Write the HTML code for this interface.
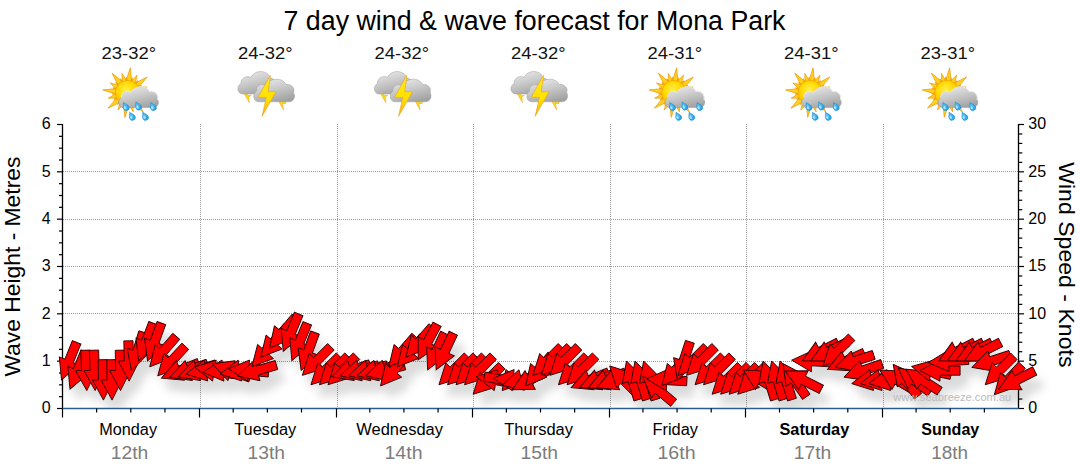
<!DOCTYPE html><html><head><meta charset="utf-8"><title>7 day wind &amp; wave forecast</title>
<style>html,body{margin:0;padding:0;background:#fff;}svg{display:block;}text{font-family:"Liberation Sans",sans-serif;}</style></head><body>
<svg width="1080" height="475" viewBox="0 0 1080 475">
<defs>
<filter id="sh" x="-5%" y="-30%" width="110%" height="180%"><feDropShadow dx="7" dy="12" stdDeviation="4.5" flood-color="#000" flood-opacity="0.14"/></filter>
<clipPath id="pc"><rect x="0" y="100" width="1080" height="308"/></clipPath>
<linearGradient id="cg" x1="0.25" y1="0" x2="0.7" y2="1"><stop offset="0" stop-color="#e9e9e9"/><stop offset="0.5" stop-color="#c6c6c6"/><stop offset="1" stop-color="#a0a0a0"/></linearGradient>
<linearGradient id="bg" x1="0" y1="0" x2="0" y2="1"><stop offset="0" stop-color="#ffe81a"/><stop offset="0.6" stop-color="#ffe000"/><stop offset="1" stop-color="#f5a623"/></linearGradient>
<radialGradient id="sg" cx="0.45" cy="0.4" r="0.65"><stop offset="0" stop-color="#fff04a"/><stop offset="0.55" stop-color="#ffd800"/><stop offset="1" stop-color="#f8b000"/></radialGradient>
<radialGradient id="dg" cx="0.4" cy="0.45" r="0.7"><stop offset="0" stop-color="#6ccbfa"/><stop offset="1" stop-color="#1295e0"/></radialGradient>
</defs>
<rect width="1080" height="475" fill="#fff"/>
<text x="283.5" y="29.5" font-size="27" textLength="502" lengthAdjust="spacingAndGlyphs" fill="#000">7 day wind &amp; wave forecast for Mona Park</text>
<text x="101.6" y="59.3" font-size="16.4" textLength="54.4" lengthAdjust="spacingAndGlyphs" fill="#111">23-32°</text>
<text x="238.1" y="59.3" font-size="16.4" textLength="54.4" lengthAdjust="spacingAndGlyphs" fill="#111">24-32°</text>
<text x="374.6" y="59.3" font-size="16.4" textLength="54.4" lengthAdjust="spacingAndGlyphs" fill="#111">24-32°</text>
<text x="511.1" y="59.3" font-size="16.4" textLength="54.4" lengthAdjust="spacingAndGlyphs" fill="#111">24-32°</text>
<text x="647.6" y="59.3" font-size="16.4" textLength="54.4" lengthAdjust="spacingAndGlyphs" fill="#111">24-31°</text>
<text x="784.1" y="59.3" font-size="16.4" textLength="54.4" lengthAdjust="spacingAndGlyphs" fill="#111">24-31°</text>
<text x="920.6" y="59.3" font-size="16.4" textLength="54.4" lengthAdjust="spacingAndGlyphs" fill="#111">23-31°</text>
<line x1="63" x2="1018.5" y1="361.5" y2="361.5" stroke="#9c9c9c" stroke-width="1" stroke-dasharray="1,1" shape-rendering="crispEdges"/>
<line x1="63" x2="1018.5" y1="313.5" y2="313.5" stroke="#9c9c9c" stroke-width="1" stroke-dasharray="1,1" shape-rendering="crispEdges"/>
<line x1="63" x2="1018.5" y1="266.5" y2="266.5" stroke="#9c9c9c" stroke-width="1" stroke-dasharray="1,1" shape-rendering="crispEdges"/>
<line x1="63" x2="1018.5" y1="219.5" y2="219.5" stroke="#9c9c9c" stroke-width="1" stroke-dasharray="1,1" shape-rendering="crispEdges"/>
<line x1="63" x2="1018.5" y1="171.5" y2="171.5" stroke="#9c9c9c" stroke-width="1" stroke-dasharray="1,1" shape-rendering="crispEdges"/>
<line x1="200.5" x2="200.5" y1="124" y2="408.5" stroke="#9c9c9c" stroke-width="1" stroke-dasharray="1,1" shape-rendering="crispEdges"/>
<line x1="337.5" x2="337.5" y1="124" y2="408.5" stroke="#9c9c9c" stroke-width="1" stroke-dasharray="1,1" shape-rendering="crispEdges"/>
<line x1="473.5" x2="473.5" y1="124" y2="408.5" stroke="#9c9c9c" stroke-width="1" stroke-dasharray="1,1" shape-rendering="crispEdges"/>
<line x1="610.5" x2="610.5" y1="124" y2="408.5" stroke="#9c9c9c" stroke-width="1" stroke-dasharray="1,1" shape-rendering="crispEdges"/>
<line x1="746.5" x2="746.5" y1="124" y2="408.5" stroke="#9c9c9c" stroke-width="1" stroke-dasharray="1,1" shape-rendering="crispEdges"/>
<line x1="883.5" x2="883.5" y1="124" y2="408.5" stroke="#9c9c9c" stroke-width="1" stroke-dasharray="1,1" shape-rendering="crispEdges"/>
<g transform="translate(-0.0,0)"><g><path d="M125.6,82.3 L130.3,67.8 L131.8,83.0 Z M130.2,82.4 L137.2,75.1 L134.8,84.9 Z M133.5,83.9 L147.1,77.0 L137.4,88.8 Z M136.6,87.3 L146.8,87.0 L138.1,92.3 Z M137.9,90.6 L152.4,95.3 L137.2,96.8 Z M137.8,95.2 L145.1,102.2 L135.3,99.8 Z M136.3,98.5 L143.2,112.1 L131.4,102.4 Z M132.9,101.6 L133.2,111.8 L127.9,103.1 Z M129.6,102.9 L124.9,117.4 L123.4,102.2 Z M125.0,102.8 L118.0,110.1 L120.4,100.3 Z M121.7,101.3 L108.1,108.2 L117.8,96.4 Z M118.6,97.9 L108.4,98.2 L117.1,92.9 Z M117.3,94.6 L102.8,89.9 L118.0,88.4 Z M117.4,90.0 L110.1,83.0 L119.9,85.4 Z M118.9,86.7 L112.0,73.1 L123.8,82.8 Z M122.3,83.6 L122.0,73.4 L127.3,82.1 Z M129.3,82.2 L132.3,77.8 L132.1,83.1 Z M133.2,83.7 L137.6,80.7 L135.4,85.6 Z M136.2,86.5 L141.4,85.5 L137.5,89.1 Z M137.8,90.2 L143.0,91.3 L138.1,93.2 Z M138.0,94.3 L142.4,97.3 L137.1,97.1 Z M136.5,98.2 L139.5,102.6 L134.6,100.4 Z M133.7,101.2 L134.7,106.4 L131.1,102.5 Z M130.0,102.8 L128.9,108.0 L127.0,103.1 Z M125.9,103.0 L122.9,107.4 L123.1,102.1 Z M122.0,101.5 L117.6,104.5 L119.8,99.6 Z M119.0,98.7 L113.8,99.7 L117.7,96.1 Z M117.4,95.0 L112.2,93.9 L117.1,92.0 Z M117.2,90.9 L112.8,87.9 L118.1,88.1 Z M118.7,87.0 L115.7,82.6 L120.6,84.8 Z M121.5,84.0 L120.5,78.8 L124.1,82.7 Z M125.2,82.4 L126.3,77.2 L128.2,82.1 Z" fill="#ffd01c" stroke="#f0a010" stroke-width="0.8" stroke-linejoin="round"/><circle cx="127.6" cy="92.6" r="12.2" fill="url(#sg)" stroke="#f6a800" stroke-width="0.8"/><path d="M123.5,107.6 C118.5,107.6 117,100.5 121.5,97.5 C120.5,92.5 127,89.5 131,92.5 C134,85.5 146.5,84.5 149.5,91.5 C154.5,90.5 159,95 157.5,99.5 C160,103 157.5,107.6 153,107.6 Z" fill="url(#cg)" stroke="#9a9a9a" stroke-width="0.5"/><path d="M121.5,97.5 C120.5,92.5 127,89.5 131,92.5 C134,85.5 146.5,84.5 149.5,91.5 C154.5,90.5 159,95 157.5,99.5" fill="none" stroke="#f4f4f4" stroke-width="1" opacity="0.9"/><g transform="translate(125.6,106.6) rotate(-28)"><path d="M0,-4.6 C1,-2.4 2.9,-0.6 2.9,1.3 A2.9,2.9 0 1 1 -2.9,1.3 C-2.9,-0.6 -1,-2.4 0,-4.6 Z" fill="url(#dg)" stroke="#1c8fd0" stroke-width="0.5"/><ellipse cx="-1" cy="0.8" rx="1.1" ry="1.5" fill="#bfeaff" opacity="0.8"/></g><g transform="translate(138,106) rotate(-28)"><path d="M0,-4.6 C1,-2.4 2.9,-0.6 2.9,1.3 A2.9,2.9 0 1 1 -2.9,1.3 C-2.9,-0.6 -1,-2.4 0,-4.6 Z" fill="url(#dg)" stroke="#1c8fd0" stroke-width="0.5"/><ellipse cx="-1" cy="0.8" rx="1.1" ry="1.5" fill="#bfeaff" opacity="0.8"/></g><g transform="translate(152.8,106.6) rotate(-28)"><path d="M0,-4.6 C1,-2.4 2.9,-0.6 2.9,1.3 A2.9,2.9 0 1 1 -2.9,1.3 C-2.9,-0.6 -1,-2.4 0,-4.6 Z" fill="url(#dg)" stroke="#1c8fd0" stroke-width="0.5"/><ellipse cx="-1" cy="0.8" rx="1.1" ry="1.5" fill="#bfeaff" opacity="0.8"/></g><g transform="translate(131.8,116.3) rotate(-28)"><path d="M0,-4.6 C1,-2.4 2.9,-0.6 2.9,1.3 A2.9,2.9 0 1 1 -2.9,1.3 C-2.9,-0.6 -1,-2.4 0,-4.6 Z" fill="url(#dg)" stroke="#1c8fd0" stroke-width="0.5"/><ellipse cx="-1" cy="0.8" rx="1.1" ry="1.5" fill="#bfeaff" opacity="0.8"/></g><g transform="translate(144.9,116.3) rotate(-28)"><path d="M0,-4.6 C1,-2.4 2.9,-0.6 2.9,1.3 A2.9,2.9 0 1 1 -2.9,1.3 C-2.9,-0.6 -1,-2.4 0,-4.6 Z" fill="url(#dg)" stroke="#1c8fd0" stroke-width="0.5"/><ellipse cx="-1" cy="0.8" rx="1.1" ry="1.5" fill="#bfeaff" opacity="0.8"/></g></g></g>
<g transform="translate(136.6,0)"><g transform="translate(-136.57,0)"><path d="M243.6,92.4 L246.6,92.4 L247.8,95.4 L251.2,95.4 L248.6,97 L249.3,102.6 L245.6,96.2 Z" fill="#ffd814" stroke="#e8a018" stroke-width="0.5"/><path d="M278.8,100.5 L286,100.8 L285.6,103.6 L282.3,103.4 L283.6,110 L279.6,103 Z" fill="#ffd814" stroke="#e8a018" stroke-width="0.5"/><path d="M243,94 C237,94 236,86 241,83.5 C240.5,78 247,75 251,77.5 C254,69.5 268,69.5 270,78 C275,78 277,84 274,88 C276,92 272,94.5 268,94 Z" fill="url(#cg)" stroke="#a0a0a0" stroke-width="0.5"/><path d="M259,101.8 C253,101.8 252,94 256.5,91 C255.5,85.5 262,83 266,85.5 C269,77.5 283,77 286,84.5 C291,83.5 295.5,88.5 293.5,92.5 C296,96.5 293.5,101.8 289,101.8 Z" fill="url(#cg)" stroke="#a0a0a0" stroke-width="0.5"/><path d="M269.9,75.7 L258.1,97.4 L266.2,97.4 L262,116.4 L275.9,91.8 L268.2,91.8 L270.4,75.7 Z" fill="url(#bg)" stroke="#eaa21c" stroke-width="0.6" stroke-linejoin="round"/></g></g>
<g transform="translate(273.1,0)"><g transform="translate(-136.57,0)"><path d="M243.6,92.4 L246.6,92.4 L247.8,95.4 L251.2,95.4 L248.6,97 L249.3,102.6 L245.6,96.2 Z" fill="#ffd814" stroke="#e8a018" stroke-width="0.5"/><path d="M278.8,100.5 L286,100.8 L285.6,103.6 L282.3,103.4 L283.6,110 L279.6,103 Z" fill="#ffd814" stroke="#e8a018" stroke-width="0.5"/><path d="M243,94 C237,94 236,86 241,83.5 C240.5,78 247,75 251,77.5 C254,69.5 268,69.5 270,78 C275,78 277,84 274,88 C276,92 272,94.5 268,94 Z" fill="url(#cg)" stroke="#a0a0a0" stroke-width="0.5"/><path d="M259,101.8 C253,101.8 252,94 256.5,91 C255.5,85.5 262,83 266,85.5 C269,77.5 283,77 286,84.5 C291,83.5 295.5,88.5 293.5,92.5 C296,96.5 293.5,101.8 289,101.8 Z" fill="url(#cg)" stroke="#a0a0a0" stroke-width="0.5"/><path d="M269.9,75.7 L258.1,97.4 L266.2,97.4 L262,116.4 L275.9,91.8 L268.2,91.8 L270.4,75.7 Z" fill="url(#bg)" stroke="#eaa21c" stroke-width="0.6" stroke-linejoin="round"/></g></g>
<g transform="translate(409.7,0)"><g transform="translate(-136.57,0)"><path d="M243.6,92.4 L246.6,92.4 L247.8,95.4 L251.2,95.4 L248.6,97 L249.3,102.6 L245.6,96.2 Z" fill="#ffd814" stroke="#e8a018" stroke-width="0.5"/><path d="M278.8,100.5 L286,100.8 L285.6,103.6 L282.3,103.4 L283.6,110 L279.6,103 Z" fill="#ffd814" stroke="#e8a018" stroke-width="0.5"/><path d="M243,94 C237,94 236,86 241,83.5 C240.5,78 247,75 251,77.5 C254,69.5 268,69.5 270,78 C275,78 277,84 274,88 C276,92 272,94.5 268,94 Z" fill="url(#cg)" stroke="#a0a0a0" stroke-width="0.5"/><path d="M259,101.8 C253,101.8 252,94 256.5,91 C255.5,85.5 262,83 266,85.5 C269,77.5 283,77 286,84.5 C291,83.5 295.5,88.5 293.5,92.5 C296,96.5 293.5,101.8 289,101.8 Z" fill="url(#cg)" stroke="#a0a0a0" stroke-width="0.5"/><path d="M269.9,75.7 L258.1,97.4 L266.2,97.4 L262,116.4 L275.9,91.8 L268.2,91.8 L270.4,75.7 Z" fill="url(#bg)" stroke="#eaa21c" stroke-width="0.6" stroke-linejoin="round"/></g></g>
<g transform="translate(546.3,0)"><g><path d="M125.6,82.3 L130.3,67.8 L131.8,83.0 Z M130.2,82.4 L137.2,75.1 L134.8,84.9 Z M133.5,83.9 L147.1,77.0 L137.4,88.8 Z M136.6,87.3 L146.8,87.0 L138.1,92.3 Z M137.9,90.6 L152.4,95.3 L137.2,96.8 Z M137.8,95.2 L145.1,102.2 L135.3,99.8 Z M136.3,98.5 L143.2,112.1 L131.4,102.4 Z M132.9,101.6 L133.2,111.8 L127.9,103.1 Z M129.6,102.9 L124.9,117.4 L123.4,102.2 Z M125.0,102.8 L118.0,110.1 L120.4,100.3 Z M121.7,101.3 L108.1,108.2 L117.8,96.4 Z M118.6,97.9 L108.4,98.2 L117.1,92.9 Z M117.3,94.6 L102.8,89.9 L118.0,88.4 Z M117.4,90.0 L110.1,83.0 L119.9,85.4 Z M118.9,86.7 L112.0,73.1 L123.8,82.8 Z M122.3,83.6 L122.0,73.4 L127.3,82.1 Z M129.3,82.2 L132.3,77.8 L132.1,83.1 Z M133.2,83.7 L137.6,80.7 L135.4,85.6 Z M136.2,86.5 L141.4,85.5 L137.5,89.1 Z M137.8,90.2 L143.0,91.3 L138.1,93.2 Z M138.0,94.3 L142.4,97.3 L137.1,97.1 Z M136.5,98.2 L139.5,102.6 L134.6,100.4 Z M133.7,101.2 L134.7,106.4 L131.1,102.5 Z M130.0,102.8 L128.9,108.0 L127.0,103.1 Z M125.9,103.0 L122.9,107.4 L123.1,102.1 Z M122.0,101.5 L117.6,104.5 L119.8,99.6 Z M119.0,98.7 L113.8,99.7 L117.7,96.1 Z M117.4,95.0 L112.2,93.9 L117.1,92.0 Z M117.2,90.9 L112.8,87.9 L118.1,88.1 Z M118.7,87.0 L115.7,82.6 L120.6,84.8 Z M121.5,84.0 L120.5,78.8 L124.1,82.7 Z M125.2,82.4 L126.3,77.2 L128.2,82.1 Z" fill="#ffd01c" stroke="#f0a010" stroke-width="0.8" stroke-linejoin="round"/><circle cx="127.6" cy="92.6" r="12.2" fill="url(#sg)" stroke="#f6a800" stroke-width="0.8"/><path d="M123.5,107.6 C118.5,107.6 117,100.5 121.5,97.5 C120.5,92.5 127,89.5 131,92.5 C134,85.5 146.5,84.5 149.5,91.5 C154.5,90.5 159,95 157.5,99.5 C160,103 157.5,107.6 153,107.6 Z" fill="url(#cg)" stroke="#9a9a9a" stroke-width="0.5"/><path d="M121.5,97.5 C120.5,92.5 127,89.5 131,92.5 C134,85.5 146.5,84.5 149.5,91.5 C154.5,90.5 159,95 157.5,99.5" fill="none" stroke="#f4f4f4" stroke-width="1" opacity="0.9"/><g transform="translate(125.6,106.6) rotate(-28)"><path d="M0,-4.6 C1,-2.4 2.9,-0.6 2.9,1.3 A2.9,2.9 0 1 1 -2.9,1.3 C-2.9,-0.6 -1,-2.4 0,-4.6 Z" fill="url(#dg)" stroke="#1c8fd0" stroke-width="0.5"/><ellipse cx="-1" cy="0.8" rx="1.1" ry="1.5" fill="#bfeaff" opacity="0.8"/></g><g transform="translate(138,106) rotate(-28)"><path d="M0,-4.6 C1,-2.4 2.9,-0.6 2.9,1.3 A2.9,2.9 0 1 1 -2.9,1.3 C-2.9,-0.6 -1,-2.4 0,-4.6 Z" fill="url(#dg)" stroke="#1c8fd0" stroke-width="0.5"/><ellipse cx="-1" cy="0.8" rx="1.1" ry="1.5" fill="#bfeaff" opacity="0.8"/></g><g transform="translate(152.8,106.6) rotate(-28)"><path d="M0,-4.6 C1,-2.4 2.9,-0.6 2.9,1.3 A2.9,2.9 0 1 1 -2.9,1.3 C-2.9,-0.6 -1,-2.4 0,-4.6 Z" fill="url(#dg)" stroke="#1c8fd0" stroke-width="0.5"/><ellipse cx="-1" cy="0.8" rx="1.1" ry="1.5" fill="#bfeaff" opacity="0.8"/></g><g transform="translate(131.8,116.3) rotate(-28)"><path d="M0,-4.6 C1,-2.4 2.9,-0.6 2.9,1.3 A2.9,2.9 0 1 1 -2.9,1.3 C-2.9,-0.6 -1,-2.4 0,-4.6 Z" fill="url(#dg)" stroke="#1c8fd0" stroke-width="0.5"/><ellipse cx="-1" cy="0.8" rx="1.1" ry="1.5" fill="#bfeaff" opacity="0.8"/></g><g transform="translate(144.9,116.3) rotate(-28)"><path d="M0,-4.6 C1,-2.4 2.9,-0.6 2.9,1.3 A2.9,2.9 0 1 1 -2.9,1.3 C-2.9,-0.6 -1,-2.4 0,-4.6 Z" fill="url(#dg)" stroke="#1c8fd0" stroke-width="0.5"/><ellipse cx="-1" cy="0.8" rx="1.1" ry="1.5" fill="#bfeaff" opacity="0.8"/></g></g></g>
<g transform="translate(682.8,0)"><g><path d="M125.6,82.3 L130.3,67.8 L131.8,83.0 Z M130.2,82.4 L137.2,75.1 L134.8,84.9 Z M133.5,83.9 L147.1,77.0 L137.4,88.8 Z M136.6,87.3 L146.8,87.0 L138.1,92.3 Z M137.9,90.6 L152.4,95.3 L137.2,96.8 Z M137.8,95.2 L145.1,102.2 L135.3,99.8 Z M136.3,98.5 L143.2,112.1 L131.4,102.4 Z M132.9,101.6 L133.2,111.8 L127.9,103.1 Z M129.6,102.9 L124.9,117.4 L123.4,102.2 Z M125.0,102.8 L118.0,110.1 L120.4,100.3 Z M121.7,101.3 L108.1,108.2 L117.8,96.4 Z M118.6,97.9 L108.4,98.2 L117.1,92.9 Z M117.3,94.6 L102.8,89.9 L118.0,88.4 Z M117.4,90.0 L110.1,83.0 L119.9,85.4 Z M118.9,86.7 L112.0,73.1 L123.8,82.8 Z M122.3,83.6 L122.0,73.4 L127.3,82.1 Z M129.3,82.2 L132.3,77.8 L132.1,83.1 Z M133.2,83.7 L137.6,80.7 L135.4,85.6 Z M136.2,86.5 L141.4,85.5 L137.5,89.1 Z M137.8,90.2 L143.0,91.3 L138.1,93.2 Z M138.0,94.3 L142.4,97.3 L137.1,97.1 Z M136.5,98.2 L139.5,102.6 L134.6,100.4 Z M133.7,101.2 L134.7,106.4 L131.1,102.5 Z M130.0,102.8 L128.9,108.0 L127.0,103.1 Z M125.9,103.0 L122.9,107.4 L123.1,102.1 Z M122.0,101.5 L117.6,104.5 L119.8,99.6 Z M119.0,98.7 L113.8,99.7 L117.7,96.1 Z M117.4,95.0 L112.2,93.9 L117.1,92.0 Z M117.2,90.9 L112.8,87.9 L118.1,88.1 Z M118.7,87.0 L115.7,82.6 L120.6,84.8 Z M121.5,84.0 L120.5,78.8 L124.1,82.7 Z M125.2,82.4 L126.3,77.2 L128.2,82.1 Z" fill="#ffd01c" stroke="#f0a010" stroke-width="0.8" stroke-linejoin="round"/><circle cx="127.6" cy="92.6" r="12.2" fill="url(#sg)" stroke="#f6a800" stroke-width="0.8"/><path d="M123.5,107.6 C118.5,107.6 117,100.5 121.5,97.5 C120.5,92.5 127,89.5 131,92.5 C134,85.5 146.5,84.5 149.5,91.5 C154.5,90.5 159,95 157.5,99.5 C160,103 157.5,107.6 153,107.6 Z" fill="url(#cg)" stroke="#9a9a9a" stroke-width="0.5"/><path d="M121.5,97.5 C120.5,92.5 127,89.5 131,92.5 C134,85.5 146.5,84.5 149.5,91.5 C154.5,90.5 159,95 157.5,99.5" fill="none" stroke="#f4f4f4" stroke-width="1" opacity="0.9"/><g transform="translate(125.6,106.6) rotate(-28)"><path d="M0,-4.6 C1,-2.4 2.9,-0.6 2.9,1.3 A2.9,2.9 0 1 1 -2.9,1.3 C-2.9,-0.6 -1,-2.4 0,-4.6 Z" fill="url(#dg)" stroke="#1c8fd0" stroke-width="0.5"/><ellipse cx="-1" cy="0.8" rx="1.1" ry="1.5" fill="#bfeaff" opacity="0.8"/></g><g transform="translate(138,106) rotate(-28)"><path d="M0,-4.6 C1,-2.4 2.9,-0.6 2.9,1.3 A2.9,2.9 0 1 1 -2.9,1.3 C-2.9,-0.6 -1,-2.4 0,-4.6 Z" fill="url(#dg)" stroke="#1c8fd0" stroke-width="0.5"/><ellipse cx="-1" cy="0.8" rx="1.1" ry="1.5" fill="#bfeaff" opacity="0.8"/></g><g transform="translate(152.8,106.6) rotate(-28)"><path d="M0,-4.6 C1,-2.4 2.9,-0.6 2.9,1.3 A2.9,2.9 0 1 1 -2.9,1.3 C-2.9,-0.6 -1,-2.4 0,-4.6 Z" fill="url(#dg)" stroke="#1c8fd0" stroke-width="0.5"/><ellipse cx="-1" cy="0.8" rx="1.1" ry="1.5" fill="#bfeaff" opacity="0.8"/></g><g transform="translate(131.8,116.3) rotate(-28)"><path d="M0,-4.6 C1,-2.4 2.9,-0.6 2.9,1.3 A2.9,2.9 0 1 1 -2.9,1.3 C-2.9,-0.6 -1,-2.4 0,-4.6 Z" fill="url(#dg)" stroke="#1c8fd0" stroke-width="0.5"/><ellipse cx="-1" cy="0.8" rx="1.1" ry="1.5" fill="#bfeaff" opacity="0.8"/></g><g transform="translate(144.9,116.3) rotate(-28)"><path d="M0,-4.6 C1,-2.4 2.9,-0.6 2.9,1.3 A2.9,2.9 0 1 1 -2.9,1.3 C-2.9,-0.6 -1,-2.4 0,-4.6 Z" fill="url(#dg)" stroke="#1c8fd0" stroke-width="0.5"/><ellipse cx="-1" cy="0.8" rx="1.1" ry="1.5" fill="#bfeaff" opacity="0.8"/></g></g></g>
<g transform="translate(819.4,0)"><g><path d="M125.6,82.3 L130.3,67.8 L131.8,83.0 Z M130.2,82.4 L137.2,75.1 L134.8,84.9 Z M133.5,83.9 L147.1,77.0 L137.4,88.8 Z M136.6,87.3 L146.8,87.0 L138.1,92.3 Z M137.9,90.6 L152.4,95.3 L137.2,96.8 Z M137.8,95.2 L145.1,102.2 L135.3,99.8 Z M136.3,98.5 L143.2,112.1 L131.4,102.4 Z M132.9,101.6 L133.2,111.8 L127.9,103.1 Z M129.6,102.9 L124.9,117.4 L123.4,102.2 Z M125.0,102.8 L118.0,110.1 L120.4,100.3 Z M121.7,101.3 L108.1,108.2 L117.8,96.4 Z M118.6,97.9 L108.4,98.2 L117.1,92.9 Z M117.3,94.6 L102.8,89.9 L118.0,88.4 Z M117.4,90.0 L110.1,83.0 L119.9,85.4 Z M118.9,86.7 L112.0,73.1 L123.8,82.8 Z M122.3,83.6 L122.0,73.4 L127.3,82.1 Z M129.3,82.2 L132.3,77.8 L132.1,83.1 Z M133.2,83.7 L137.6,80.7 L135.4,85.6 Z M136.2,86.5 L141.4,85.5 L137.5,89.1 Z M137.8,90.2 L143.0,91.3 L138.1,93.2 Z M138.0,94.3 L142.4,97.3 L137.1,97.1 Z M136.5,98.2 L139.5,102.6 L134.6,100.4 Z M133.7,101.2 L134.7,106.4 L131.1,102.5 Z M130.0,102.8 L128.9,108.0 L127.0,103.1 Z M125.9,103.0 L122.9,107.4 L123.1,102.1 Z M122.0,101.5 L117.6,104.5 L119.8,99.6 Z M119.0,98.7 L113.8,99.7 L117.7,96.1 Z M117.4,95.0 L112.2,93.9 L117.1,92.0 Z M117.2,90.9 L112.8,87.9 L118.1,88.1 Z M118.7,87.0 L115.7,82.6 L120.6,84.8 Z M121.5,84.0 L120.5,78.8 L124.1,82.7 Z M125.2,82.4 L126.3,77.2 L128.2,82.1 Z" fill="#ffd01c" stroke="#f0a010" stroke-width="0.8" stroke-linejoin="round"/><circle cx="127.6" cy="92.6" r="12.2" fill="url(#sg)" stroke="#f6a800" stroke-width="0.8"/><path d="M123.5,107.6 C118.5,107.6 117,100.5 121.5,97.5 C120.5,92.5 127,89.5 131,92.5 C134,85.5 146.5,84.5 149.5,91.5 C154.5,90.5 159,95 157.5,99.5 C160,103 157.5,107.6 153,107.6 Z" fill="url(#cg)" stroke="#9a9a9a" stroke-width="0.5"/><path d="M121.5,97.5 C120.5,92.5 127,89.5 131,92.5 C134,85.5 146.5,84.5 149.5,91.5 C154.5,90.5 159,95 157.5,99.5" fill="none" stroke="#f4f4f4" stroke-width="1" opacity="0.9"/><g transform="translate(125.6,106.6) rotate(-28)"><path d="M0,-4.6 C1,-2.4 2.9,-0.6 2.9,1.3 A2.9,2.9 0 1 1 -2.9,1.3 C-2.9,-0.6 -1,-2.4 0,-4.6 Z" fill="url(#dg)" stroke="#1c8fd0" stroke-width="0.5"/><ellipse cx="-1" cy="0.8" rx="1.1" ry="1.5" fill="#bfeaff" opacity="0.8"/></g><g transform="translate(138,106) rotate(-28)"><path d="M0,-4.6 C1,-2.4 2.9,-0.6 2.9,1.3 A2.9,2.9 0 1 1 -2.9,1.3 C-2.9,-0.6 -1,-2.4 0,-4.6 Z" fill="url(#dg)" stroke="#1c8fd0" stroke-width="0.5"/><ellipse cx="-1" cy="0.8" rx="1.1" ry="1.5" fill="#bfeaff" opacity="0.8"/></g><g transform="translate(152.8,106.6) rotate(-28)"><path d="M0,-4.6 C1,-2.4 2.9,-0.6 2.9,1.3 A2.9,2.9 0 1 1 -2.9,1.3 C-2.9,-0.6 -1,-2.4 0,-4.6 Z" fill="url(#dg)" stroke="#1c8fd0" stroke-width="0.5"/><ellipse cx="-1" cy="0.8" rx="1.1" ry="1.5" fill="#bfeaff" opacity="0.8"/></g><g transform="translate(131.8,116.3) rotate(-28)"><path d="M0,-4.6 C1,-2.4 2.9,-0.6 2.9,1.3 A2.9,2.9 0 1 1 -2.9,1.3 C-2.9,-0.6 -1,-2.4 0,-4.6 Z" fill="url(#dg)" stroke="#1c8fd0" stroke-width="0.5"/><ellipse cx="-1" cy="0.8" rx="1.1" ry="1.5" fill="#bfeaff" opacity="0.8"/></g><g transform="translate(144.9,116.3) rotate(-28)"><path d="M0,-4.6 C1,-2.4 2.9,-0.6 2.9,1.3 A2.9,2.9 0 1 1 -2.9,1.3 C-2.9,-0.6 -1,-2.4 0,-4.6 Z" fill="url(#dg)" stroke="#1c8fd0" stroke-width="0.5"/><ellipse cx="-1" cy="0.8" rx="1.1" ry="1.5" fill="#bfeaff" opacity="0.8"/></g></g></g>
<line x1="57.0" x2="62.5" y1="408.50" y2="408.50" stroke="#000" stroke-width="1.2"/>
<line x1="59.0" x2="62.5" y1="396.67" y2="396.67" stroke="#000" stroke-width="1.2"/>
<line x1="59.0" x2="62.5" y1="384.83" y2="384.83" stroke="#000" stroke-width="1.2"/>
<line x1="59.0" x2="62.5" y1="373.00" y2="373.00" stroke="#000" stroke-width="1.2"/>
<line x1="57.0" x2="62.5" y1="361.17" y2="361.17" stroke="#000" stroke-width="1.2"/>
<line x1="59.0" x2="62.5" y1="349.33" y2="349.33" stroke="#000" stroke-width="1.2"/>
<line x1="59.0" x2="62.5" y1="337.50" y2="337.50" stroke="#000" stroke-width="1.2"/>
<line x1="59.0" x2="62.5" y1="325.67" y2="325.67" stroke="#000" stroke-width="1.2"/>
<line x1="57.0" x2="62.5" y1="313.83" y2="313.83" stroke="#000" stroke-width="1.2"/>
<line x1="59.0" x2="62.5" y1="302.00" y2="302.00" stroke="#000" stroke-width="1.2"/>
<line x1="59.0" x2="62.5" y1="290.17" y2="290.17" stroke="#000" stroke-width="1.2"/>
<line x1="59.0" x2="62.5" y1="278.33" y2="278.33" stroke="#000" stroke-width="1.2"/>
<line x1="57.0" x2="62.5" y1="266.50" y2="266.50" stroke="#000" stroke-width="1.2"/>
<line x1="59.0" x2="62.5" y1="254.67" y2="254.67" stroke="#000" stroke-width="1.2"/>
<line x1="59.0" x2="62.5" y1="242.83" y2="242.83" stroke="#000" stroke-width="1.2"/>
<line x1="59.0" x2="62.5" y1="231.00" y2="231.00" stroke="#000" stroke-width="1.2"/>
<line x1="57.0" x2="62.5" y1="219.17" y2="219.17" stroke="#000" stroke-width="1.2"/>
<line x1="59.0" x2="62.5" y1="207.33" y2="207.33" stroke="#000" stroke-width="1.2"/>
<line x1="59.0" x2="62.5" y1="195.50" y2="195.50" stroke="#000" stroke-width="1.2"/>
<line x1="59.0" x2="62.5" y1="183.67" y2="183.67" stroke="#000" stroke-width="1.2"/>
<line x1="57.0" x2="62.5" y1="171.83" y2="171.83" stroke="#000" stroke-width="1.2"/>
<line x1="59.0" x2="62.5" y1="160.00" y2="160.00" stroke="#000" stroke-width="1.2"/>
<line x1="59.0" x2="62.5" y1="148.17" y2="148.17" stroke="#000" stroke-width="1.2"/>
<line x1="59.0" x2="62.5" y1="136.33" y2="136.33" stroke="#000" stroke-width="1.2"/>
<line x1="57.0" x2="62.5" y1="124.50" y2="124.50" stroke="#000" stroke-width="1.2"/>
<line x1="1018.5" x2="1024.0" y1="408.50" y2="408.50" stroke="#000" stroke-width="1.2"/>
<line x1="1018.5" x2="1022.3" y1="399.03" y2="399.03" stroke="#000" stroke-width="1.2"/>
<line x1="1018.5" x2="1022.3" y1="389.57" y2="389.57" stroke="#000" stroke-width="1.2"/>
<line x1="1018.5" x2="1022.3" y1="380.10" y2="380.10" stroke="#000" stroke-width="1.2"/>
<line x1="1018.5" x2="1022.3" y1="370.63" y2="370.63" stroke="#000" stroke-width="1.2"/>
<line x1="1018.5" x2="1024.0" y1="361.17" y2="361.17" stroke="#000" stroke-width="1.2"/>
<line x1="1018.5" x2="1022.3" y1="351.70" y2="351.70" stroke="#000" stroke-width="1.2"/>
<line x1="1018.5" x2="1022.3" y1="342.23" y2="342.23" stroke="#000" stroke-width="1.2"/>
<line x1="1018.5" x2="1022.3" y1="332.77" y2="332.77" stroke="#000" stroke-width="1.2"/>
<line x1="1018.5" x2="1022.3" y1="323.30" y2="323.30" stroke="#000" stroke-width="1.2"/>
<line x1="1018.5" x2="1024.0" y1="313.83" y2="313.83" stroke="#000" stroke-width="1.2"/>
<line x1="1018.5" x2="1022.3" y1="304.37" y2="304.37" stroke="#000" stroke-width="1.2"/>
<line x1="1018.5" x2="1022.3" y1="294.90" y2="294.90" stroke="#000" stroke-width="1.2"/>
<line x1="1018.5" x2="1022.3" y1="285.43" y2="285.43" stroke="#000" stroke-width="1.2"/>
<line x1="1018.5" x2="1022.3" y1="275.97" y2="275.97" stroke="#000" stroke-width="1.2"/>
<line x1="1018.5" x2="1024.0" y1="266.50" y2="266.50" stroke="#000" stroke-width="1.2"/>
<line x1="1018.5" x2="1022.3" y1="257.03" y2="257.03" stroke="#000" stroke-width="1.2"/>
<line x1="1018.5" x2="1022.3" y1="247.57" y2="247.57" stroke="#000" stroke-width="1.2"/>
<line x1="1018.5" x2="1022.3" y1="238.10" y2="238.10" stroke="#000" stroke-width="1.2"/>
<line x1="1018.5" x2="1022.3" y1="228.63" y2="228.63" stroke="#000" stroke-width="1.2"/>
<line x1="1018.5" x2="1024.0" y1="219.17" y2="219.17" stroke="#000" stroke-width="1.2"/>
<line x1="1018.5" x2="1022.3" y1="209.70" y2="209.70" stroke="#000" stroke-width="1.2"/>
<line x1="1018.5" x2="1022.3" y1="200.23" y2="200.23" stroke="#000" stroke-width="1.2"/>
<line x1="1018.5" x2="1022.3" y1="190.77" y2="190.77" stroke="#000" stroke-width="1.2"/>
<line x1="1018.5" x2="1022.3" y1="181.30" y2="181.30" stroke="#000" stroke-width="1.2"/>
<line x1="1018.5" x2="1024.0" y1="171.83" y2="171.83" stroke="#000" stroke-width="1.2"/>
<line x1="1018.5" x2="1022.3" y1="162.37" y2="162.37" stroke="#000" stroke-width="1.2"/>
<line x1="1018.5" x2="1022.3" y1="152.90" y2="152.90" stroke="#000" stroke-width="1.2"/>
<line x1="1018.5" x2="1022.3" y1="143.43" y2="143.43" stroke="#000" stroke-width="1.2"/>
<line x1="1018.5" x2="1022.3" y1="133.97" y2="133.97" stroke="#000" stroke-width="1.2"/>
<line x1="1018.5" x2="1024.0" y1="124.50" y2="124.50" stroke="#000" stroke-width="1.2"/>
<line x1="62.5" x2="62.5" y1="124.0" y2="408.5" stroke="#000" stroke-width="1.3"/>
<line x1="1018.5" x2="1018.5" y1="124.0" y2="408.5" stroke="#000" stroke-width="1.3"/>
<g clip-path="url(#pc)"><g filter="url(#sh)" fill="#ff0000" stroke="#2a0000" stroke-width="0.9" stroke-linejoin="miter">
<path d="M-4.6,-20.4 L4.6,-20.4 L4.6,-0.3 L10.6,-0.3 L0,20 L-10.6,-0.3 L-4.6,-0.3 Z" transform="translate(69.0,361.2) rotate(22.0)"/>
<path d="M-4.6,-20.4 L4.6,-20.4 L4.6,-0.3 L10.6,-0.3 L0,20 L-10.6,-0.3 L-4.6,-0.3 Z" transform="translate(77.5,370.6) rotate(22.0)"/>
<path d="M-4.6,-20.4 L4.6,-20.4 L4.6,-0.3 L10.6,-0.3 L0,20 L-10.6,-0.3 L-4.6,-0.3 Z" transform="translate(86.1,370.6) rotate(-2.0)"/>
<path d="M-4.6,-20.4 L4.6,-20.4 L4.6,-0.3 L10.6,-0.3 L0,20 L-10.6,-0.3 L-4.6,-0.3 Z" transform="translate(94.6,370.6) rotate(-1.5)"/>
<path d="M-4.6,-20.4 L4.6,-20.4 L4.6,-0.3 L10.6,-0.3 L0,20 L-10.6,-0.3 L-4.6,-0.3 Z" transform="translate(103.1,380.1) rotate(-1.0)"/>
<path d="M-4.6,-20.4 L4.6,-20.4 L4.6,-0.3 L10.6,-0.3 L0,20 L-10.6,-0.3 L-4.6,-0.3 Z" transform="translate(111.7,380.1) rotate(-1.0)"/>
<path d="M-4.6,-20.4 L4.6,-20.4 L4.6,-0.3 L10.6,-0.3 L0,20 L-10.6,-0.3 L-4.6,-0.3 Z" transform="translate(120.2,370.6) rotate(-1.0)"/>
<path d="M-4.6,-20.4 L4.6,-20.4 L4.6,-0.3 L10.6,-0.3 L0,20 L-10.6,-0.3 L-4.6,-0.3 Z" transform="translate(128.8,361.2) rotate(-1.0)"/>
<path d="M-4.6,-20.4 L4.6,-20.4 L4.6,-0.3 L10.6,-0.3 L0,20 L-10.6,-0.3 L-4.6,-0.3 Z" transform="translate(137.3,351.7) rotate(17.0)"/>
<path d="M-4.6,-20.4 L4.6,-20.4 L4.6,-0.3 L10.6,-0.3 L0,20 L-10.6,-0.3 L-4.6,-0.3 Z" transform="translate(145.8,342.2) rotate(21.0)"/>
<path d="M-4.6,-20.4 L4.6,-20.4 L4.6,-0.3 L10.6,-0.3 L0,20 L-10.6,-0.3 L-4.6,-0.3 Z" transform="translate(154.4,342.2) rotate(20.0)"/>
<path d="M-4.6,-20.4 L4.6,-20.4 L4.6,-0.3 L10.6,-0.3 L0,20 L-10.6,-0.3 L-4.6,-0.3 Z" transform="translate(162.9,351.7) rotate(41.0)"/>
<path d="M-4.6,-20.4 L4.6,-20.4 L4.6,-0.3 L10.6,-0.3 L0,20 L-10.6,-0.3 L-4.6,-0.3 Z" transform="translate(171.4,361.2) rotate(43.0)"/>
<path d="M-4.6,-20.4 L4.6,-20.4 L4.6,-0.3 L10.6,-0.3 L0,20 L-10.6,-0.3 L-4.6,-0.3 Z" transform="translate(180.0,370.6) rotate(68.0)"/>
<path d="M-4.6,-20.4 L4.6,-20.4 L4.6,-0.3 L10.6,-0.3 L0,20 L-10.6,-0.3 L-4.6,-0.3 Z" transform="translate(188.5,370.6) rotate(70.0)"/>
<path d="M-4.6,-20.4 L4.6,-20.4 L4.6,-0.3 L10.6,-0.3 L0,20 L-10.6,-0.3 L-4.6,-0.3 Z" transform="translate(197.0,370.6) rotate(72.0)"/>
<path d="M-4.6,-20.4 L4.6,-20.4 L4.6,-0.3 L10.6,-0.3 L0,20 L-10.6,-0.3 L-4.6,-0.3 Z" transform="translate(205.6,370.6) rotate(80.0)"/>
<path d="M-4.6,-20.4 L4.6,-20.4 L4.6,-0.3 L10.6,-0.3 L0,20 L-10.6,-0.3 L-4.6,-0.3 Z" transform="translate(214.1,370.6) rotate(100.0)"/>
<path d="M-4.6,-20.4 L4.6,-20.4 L4.6,-0.3 L10.6,-0.3 L0,20 L-10.6,-0.3 L-4.6,-0.3 Z" transform="translate(222.7,370.6) rotate(85.0)"/>
<path d="M-4.6,-20.4 L4.6,-20.4 L4.6,-0.3 L10.6,-0.3 L0,20 L-10.6,-0.3 L-4.6,-0.3 Z" transform="translate(231.2,370.6) rotate(110.0)"/>
<path d="M-4.6,-20.4 L4.6,-20.4 L4.6,-0.3 L10.6,-0.3 L0,20 L-10.6,-0.3 L-4.6,-0.3 Z" transform="translate(239.7,370.6) rotate(80.0)"/>
<path d="M-4.6,-20.4 L4.6,-20.4 L4.6,-0.3 L10.6,-0.3 L0,20 L-10.6,-0.3 L-4.6,-0.3 Z" transform="translate(248.3,370.6) rotate(95.0)"/>
<path d="M-4.6,-20.4 L4.6,-20.4 L4.6,-0.3 L10.6,-0.3 L0,20 L-10.6,-0.3 L-4.6,-0.3 Z" transform="translate(256.8,370.6) rotate(74.0)"/>
<path d="M-4.6,-20.4 L4.6,-20.4 L4.6,-0.3 L10.6,-0.3 L0,20 L-10.6,-0.3 L-4.6,-0.3 Z" transform="translate(265.3,351.7) rotate(42.0)"/>
<path d="M-4.6,-20.4 L4.6,-20.4 L4.6,-0.3 L10.6,-0.3 L0,20 L-10.6,-0.3 L-4.6,-0.3 Z" transform="translate(273.9,342.2) rotate(41.0)"/>
<path d="M-4.6,-20.4 L4.6,-20.4 L4.6,-0.3 L10.6,-0.3 L0,20 L-10.6,-0.3 L-4.6,-0.3 Z" transform="translate(282.4,332.8) rotate(40.0)"/>
<path d="M-4.6,-20.4 L4.6,-20.4 L4.6,-0.3 L10.6,-0.3 L0,20 L-10.6,-0.3 L-4.6,-0.3 Z" transform="translate(290.9,332.8) rotate(22.5)"/>
<path d="M-4.6,-20.4 L4.6,-20.4 L4.6,-0.3 L10.6,-0.3 L0,20 L-10.6,-0.3 L-4.6,-0.3 Z" transform="translate(299.5,342.2) rotate(22.5)"/>
<path d="M-4.6,-20.4 L4.6,-20.4 L4.6,-0.3 L10.6,-0.3 L0,20 L-10.6,-0.3 L-4.6,-0.3 Z" transform="translate(308.0,351.7) rotate(20.0)"/>
<path d="M-4.6,-20.4 L4.6,-20.4 L4.6,-0.3 L10.6,-0.3 L0,20 L-10.6,-0.3 L-4.6,-0.3 Z" transform="translate(316.5,361.2) rotate(45.0)"/>
<path d="M-4.6,-20.4 L4.6,-20.4 L4.6,-0.3 L10.6,-0.3 L0,20 L-10.6,-0.3 L-4.6,-0.3 Z" transform="translate(325.1,370.6) rotate(45.0)"/>
<path d="M-4.6,-20.4 L4.6,-20.4 L4.6,-0.3 L10.6,-0.3 L0,20 L-10.6,-0.3 L-4.6,-0.3 Z" transform="translate(333.6,370.6) rotate(45.0)"/>
<path d="M-4.6,-20.4 L4.6,-20.4 L4.6,-0.3 L10.6,-0.3 L0,20 L-10.6,-0.3 L-4.6,-0.3 Z" transform="translate(342.1,370.6) rotate(45.0)"/>
<path d="M-4.6,-20.4 L4.6,-20.4 L4.6,-0.3 L10.6,-0.3 L0,20 L-10.6,-0.3 L-4.6,-0.3 Z" transform="translate(350.7,370.6) rotate(72.0)"/>
<path d="M-4.6,-20.4 L4.6,-20.4 L4.6,-0.3 L10.6,-0.3 L0,20 L-10.6,-0.3 L-4.6,-0.3 Z" transform="translate(359.2,370.6) rotate(75.0)"/>
<path d="M-4.6,-20.4 L4.6,-20.4 L4.6,-0.3 L10.6,-0.3 L0,20 L-10.6,-0.3 L-4.6,-0.3 Z" transform="translate(367.8,370.6) rotate(75.0)"/>
<path d="M-4.6,-20.4 L4.6,-20.4 L4.6,-0.3 L10.6,-0.3 L0,20 L-10.6,-0.3 L-4.6,-0.3 Z" transform="translate(376.3,370.6) rotate(75.0)"/>
<path d="M-4.6,-20.4 L4.6,-20.4 L4.6,-0.3 L10.6,-0.3 L0,20 L-10.6,-0.3 L-4.6,-0.3 Z" transform="translate(384.8,370.6) rotate(75.0)"/>
<path d="M-4.6,-20.4 L4.6,-20.4 L4.6,-0.3 L10.6,-0.3 L0,20 L-10.6,-0.3 L-4.6,-0.3 Z" transform="translate(393.4,370.6) rotate(40.0)"/>
<path d="M-4.6,-20.4 L4.6,-20.4 L4.6,-0.3 L10.6,-0.3 L0,20 L-10.6,-0.3 L-4.6,-0.3 Z" transform="translate(401.9,351.7) rotate(41.0)"/>
<path d="M-4.6,-20.4 L4.6,-20.4 L4.6,-0.3 L10.6,-0.3 L0,20 L-10.6,-0.3 L-4.6,-0.3 Z" transform="translate(410.4,351.7) rotate(41.0)"/>
<path d="M-4.6,-20.4 L4.6,-20.4 L4.6,-0.3 L10.6,-0.3 L0,20 L-10.6,-0.3 L-4.6,-0.3 Z" transform="translate(419.0,342.2) rotate(41.0)"/>
<path d="M-4.6,-20.4 L4.6,-20.4 L4.6,-0.3 L10.6,-0.3 L0,20 L-10.6,-0.3 L-4.6,-0.3 Z" transform="translate(427.5,342.2) rotate(28.0)"/>
<path d="M-4.6,-20.4 L4.6,-20.4 L4.6,-0.3 L10.6,-0.3 L0,20 L-10.6,-0.3 L-4.6,-0.3 Z" transform="translate(436.1,351.7) rotate(25.0)"/>
<path d="M-4.6,-20.4 L4.6,-20.4 L4.6,-0.3 L10.6,-0.3 L0,20 L-10.6,-0.3 L-4.6,-0.3 Z" transform="translate(444.6,351.7) rotate(25.0)"/>
<path d="M-4.6,-20.4 L4.6,-20.4 L4.6,-0.3 L10.6,-0.3 L0,20 L-10.6,-0.3 L-4.6,-0.3 Z" transform="translate(453.1,370.6) rotate(45.0)"/>
<path d="M-4.6,-20.4 L4.6,-20.4 L4.6,-0.3 L10.6,-0.3 L0,20 L-10.6,-0.3 L-4.6,-0.3 Z" transform="translate(461.7,370.6) rotate(45.0)"/>
<path d="M-4.6,-20.4 L4.6,-20.4 L4.6,-0.3 L10.6,-0.3 L0,20 L-10.6,-0.3 L-4.6,-0.3 Z" transform="translate(470.2,370.6) rotate(45.0)"/>
<path d="M-4.6,-20.4 L4.6,-20.4 L4.6,-0.3 L10.6,-0.3 L0,20 L-10.6,-0.3 L-4.6,-0.3 Z" transform="translate(478.7,370.6) rotate(45.0)"/>
<path d="M-4.6,-20.4 L4.6,-20.4 L4.6,-0.3 L10.6,-0.3 L0,20 L-10.6,-0.3 L-4.6,-0.3 Z" transform="translate(487.3,380.1) rotate(45.0)"/>
<path d="M-4.6,-20.4 L4.6,-20.4 L4.6,-0.3 L10.6,-0.3 L0,20 L-10.6,-0.3 L-4.6,-0.3 Z" transform="translate(495.8,380.1) rotate(100.0)"/>
<path d="M-4.6,-20.4 L4.6,-20.4 L4.6,-0.3 L10.6,-0.3 L0,20 L-10.6,-0.3 L-4.6,-0.3 Z" transform="translate(504.3,380.1) rotate(-80.0)"/>
<path d="M-4.6,-20.4 L4.6,-20.4 L4.6,-0.3 L10.6,-0.3 L0,20 L-10.6,-0.3 L-4.6,-0.3 Z" transform="translate(512.9,380.1) rotate(95.0)"/>
<path d="M-4.6,-20.4 L4.6,-20.4 L4.6,-0.3 L10.6,-0.3 L0,20 L-10.6,-0.3 L-4.6,-0.3 Z" transform="translate(521.4,380.1) rotate(75.0)"/>
<path d="M-4.6,-20.4 L4.6,-20.4 L4.6,-0.3 L10.6,-0.3 L0,20 L-10.6,-0.3 L-4.6,-0.3 Z" transform="translate(529.9,380.1) rotate(61.0)"/>
<path d="M-4.6,-20.4 L4.6,-20.4 L4.6,-0.3 L10.6,-0.3 L0,20 L-10.6,-0.3 L-4.6,-0.3 Z" transform="translate(538.5,370.6) rotate(40.0)"/>
<path d="M-4.6,-20.4 L4.6,-20.4 L4.6,-0.3 L10.6,-0.3 L0,20 L-10.6,-0.3 L-4.6,-0.3 Z" transform="translate(547.0,361.2) rotate(45.0)"/>
<path d="M-4.6,-20.4 L4.6,-20.4 L4.6,-0.3 L10.6,-0.3 L0,20 L-10.6,-0.3 L-4.6,-0.3 Z" transform="translate(555.5,361.2) rotate(45.0)"/>
<path d="M-4.6,-20.4 L4.6,-20.4 L4.6,-0.3 L10.6,-0.3 L0,20 L-10.6,-0.3 L-4.6,-0.3 Z" transform="translate(564.1,361.2) rotate(45.0)"/>
<path d="M-4.6,-20.4 L4.6,-20.4 L4.6,-0.3 L10.6,-0.3 L0,20 L-10.6,-0.3 L-4.6,-0.3 Z" transform="translate(572.6,370.6) rotate(45.0)"/>
<path d="M-4.6,-20.4 L4.6,-20.4 L4.6,-0.3 L10.6,-0.3 L0,20 L-10.6,-0.3 L-4.6,-0.3 Z" transform="translate(581.2,370.6) rotate(45.0)"/>
<path d="M-4.6,-20.4 L4.6,-20.4 L4.6,-0.3 L10.6,-0.3 L0,20 L-10.6,-0.3 L-4.6,-0.3 Z" transform="translate(589.7,380.1) rotate(68.0)"/>
<path d="M-4.6,-20.4 L4.6,-20.4 L4.6,-0.3 L10.6,-0.3 L0,20 L-10.6,-0.3 L-4.6,-0.3 Z" transform="translate(598.2,380.1) rotate(68.0)"/>
<path d="M-4.6,-20.4 L4.6,-20.4 L4.6,-0.3 L10.6,-0.3 L0,20 L-10.6,-0.3 L-4.6,-0.3 Z" transform="translate(606.8,380.1) rotate(68.0)"/>
<path d="M-4.6,-20.4 L4.6,-20.4 L4.6,-0.3 L10.6,-0.3 L0,20 L-10.6,-0.3 L-4.6,-0.3 Z" transform="translate(615.3,380.1) rotate(68.0)"/>
<path d="M-4.6,-20.4 L4.6,-20.4 L4.6,-0.3 L10.6,-0.3 L0,20 L-10.6,-0.3 L-4.6,-0.3 Z" transform="translate(623.8,380.1) rotate(135.0)"/>
<path d="M-4.6,-20.4 L4.6,-20.4 L4.6,-0.3 L10.6,-0.3 L0,20 L-10.6,-0.3 L-4.6,-0.3 Z" transform="translate(632.4,380.1) rotate(163.0)"/>
<path d="M-4.6,-20.4 L4.6,-20.4 L4.6,-0.3 L10.6,-0.3 L0,20 L-10.6,-0.3 L-4.6,-0.3 Z" transform="translate(640.9,380.1) rotate(163.0)"/>
<path d="M-4.6,-20.4 L4.6,-20.4 L4.6,-0.3 L10.6,-0.3 L0,20 L-10.6,-0.3 L-4.6,-0.3 Z" transform="translate(649.5,380.1) rotate(163.0)"/>
<path d="M-4.6,-20.4 L4.6,-20.4 L4.6,-0.3 L10.6,-0.3 L0,20 L-10.6,-0.3 L-4.6,-0.3 Z" transform="translate(658.0,389.6) rotate(130.0)"/>
<path d="M-4.6,-20.4 L4.6,-20.4 L4.6,-0.3 L10.6,-0.3 L0,20 L-10.6,-0.3 L-4.6,-0.3 Z" transform="translate(666.5,380.1) rotate(93.0)"/>
<path d="M-4.6,-20.4 L4.6,-20.4 L4.6,-0.3 L10.6,-0.3 L0,20 L-10.6,-0.3 L-4.6,-0.3 Z" transform="translate(675.1,370.6) rotate(41.0)"/>
<path d="M-4.6,-20.4 L4.6,-20.4 L4.6,-0.3 L10.6,-0.3 L0,20 L-10.6,-0.3 L-4.6,-0.3 Z" transform="translate(683.6,361.2) rotate(18.0)"/>
<path d="M-4.6,-20.4 L4.6,-20.4 L4.6,-0.3 L10.6,-0.3 L0,20 L-10.6,-0.3 L-4.6,-0.3 Z" transform="translate(692.1,361.2) rotate(45.0)"/>
<path d="M-4.6,-20.4 L4.6,-20.4 L4.6,-0.3 L10.6,-0.3 L0,20 L-10.6,-0.3 L-4.6,-0.3 Z" transform="translate(700.7,361.2) rotate(45.0)"/>
<path d="M-4.6,-20.4 L4.6,-20.4 L4.6,-0.3 L10.6,-0.3 L0,20 L-10.6,-0.3 L-4.6,-0.3 Z" transform="translate(709.2,370.6) rotate(45.0)"/>
<path d="M-4.6,-20.4 L4.6,-20.4 L4.6,-0.3 L10.6,-0.3 L0,20 L-10.6,-0.3 L-4.6,-0.3 Z" transform="translate(717.7,370.6) rotate(45.0)"/>
<path d="M-4.6,-20.4 L4.6,-20.4 L4.6,-0.3 L10.6,-0.3 L0,20 L-10.6,-0.3 L-4.6,-0.3 Z" transform="translate(726.3,380.1) rotate(45.0)"/>
<path d="M-4.6,-20.4 L4.6,-20.4 L4.6,-0.3 L10.6,-0.3 L0,20 L-10.6,-0.3 L-4.6,-0.3 Z" transform="translate(734.8,380.1) rotate(45.0)"/>
<path d="M-4.6,-20.4 L4.6,-20.4 L4.6,-0.3 L10.6,-0.3 L0,20 L-10.6,-0.3 L-4.6,-0.3 Z" transform="translate(743.3,380.1) rotate(45.0)"/>
<path d="M-4.6,-20.4 L4.6,-20.4 L4.6,-0.3 L10.6,-0.3 L0,20 L-10.6,-0.3 L-4.6,-0.3 Z" transform="translate(751.9,380.1) rotate(45.0)"/>
<path d="M-4.6,-20.4 L4.6,-20.4 L4.6,-0.3 L10.6,-0.3 L0,20 L-10.6,-0.3 L-4.6,-0.3 Z" transform="translate(760.4,380.1) rotate(120.0)"/>
<path d="M-4.6,-20.4 L4.6,-20.4 L4.6,-0.3 L10.6,-0.3 L0,20 L-10.6,-0.3 L-4.6,-0.3 Z" transform="translate(769.0,380.1) rotate(163.0)"/>
<path d="M-4.6,-20.4 L4.6,-20.4 L4.6,-0.3 L10.6,-0.3 L0,20 L-10.6,-0.3 L-4.6,-0.3 Z" transform="translate(777.5,380.1) rotate(163.0)"/>
<path d="M-4.6,-20.4 L4.6,-20.4 L4.6,-0.3 L10.6,-0.3 L0,20 L-10.6,-0.3 L-4.6,-0.3 Z" transform="translate(786.0,380.1) rotate(163.0)"/>
<path d="M-4.6,-20.4 L4.6,-20.4 L4.6,-0.3 L10.6,-0.3 L0,20 L-10.6,-0.3 L-4.6,-0.3 Z" transform="translate(794.6,380.1) rotate(145.0)"/>
<path d="M-4.6,-20.4 L4.6,-20.4 L4.6,-0.3 L10.6,-0.3 L0,20 L-10.6,-0.3 L-4.6,-0.3 Z" transform="translate(803.1,380.1) rotate(117.0)"/>
<path d="M-4.6,-20.4 L4.6,-20.4 L4.6,-0.3 L10.6,-0.3 L0,20 L-10.6,-0.3 L-4.6,-0.3 Z" transform="translate(811.6,361.2) rotate(93.0)"/>
<path d="M-4.6,-20.4 L4.6,-20.4 L4.6,-0.3 L10.6,-0.3 L0,20 L-10.6,-0.3 L-4.6,-0.3 Z" transform="translate(820.2,351.7) rotate(63.0)"/>
<path d="M-4.6,-20.4 L4.6,-20.4 L4.6,-0.3 L10.6,-0.3 L0,20 L-10.6,-0.3 L-4.6,-0.3 Z" transform="translate(828.7,351.7) rotate(63.0)"/>
<path d="M-4.6,-20.4 L4.6,-20.4 L4.6,-0.3 L10.6,-0.3 L0,20 L-10.6,-0.3 L-4.6,-0.3 Z" transform="translate(837.2,351.7) rotate(45.0)"/>
<path d="M-4.6,-20.4 L4.6,-20.4 L4.6,-0.3 L10.6,-0.3 L0,20 L-10.6,-0.3 L-4.6,-0.3 Z" transform="translate(845.8,361.2) rotate(66.0)"/>
<path d="M-4.6,-20.4 L4.6,-20.4 L4.6,-0.3 L10.6,-0.3 L0,20 L-10.6,-0.3 L-4.6,-0.3 Z" transform="translate(854.3,361.2) rotate(72.0)"/>
<path d="M-4.6,-20.4 L4.6,-20.4 L4.6,-0.3 L10.6,-0.3 L0,20 L-10.6,-0.3 L-4.6,-0.3 Z" transform="translate(862.9,370.6) rotate(71.0)"/>
<path d="M-4.6,-20.4 L4.6,-20.4 L4.6,-0.3 L10.6,-0.3 L0,20 L-10.6,-0.3 L-4.6,-0.3 Z" transform="translate(871.4,380.1) rotate(80.0)"/>
<path d="M-4.6,-20.4 L4.6,-20.4 L4.6,-0.3 L10.6,-0.3 L0,20 L-10.6,-0.3 L-4.6,-0.3 Z" transform="translate(879.9,380.1) rotate(80.0)"/>
<path d="M-4.6,-20.4 L4.6,-20.4 L4.6,-0.3 L10.6,-0.3 L0,20 L-10.6,-0.3 L-4.6,-0.3 Z" transform="translate(888.5,380.1) rotate(80.0)"/>
<path d="M-4.6,-20.4 L4.6,-20.4 L4.6,-0.3 L10.6,-0.3 L0,20 L-10.6,-0.3 L-4.6,-0.3 Z" transform="translate(897.0,380.1) rotate(120.0)"/>
<path d="M-4.6,-20.4 L4.6,-20.4 L4.6,-0.3 L10.6,-0.3 L0,20 L-10.6,-0.3 L-4.6,-0.3 Z" transform="translate(905.5,380.1) rotate(142.0)"/>
<path d="M-4.6,-20.4 L4.6,-20.4 L4.6,-0.3 L10.6,-0.3 L0,20 L-10.6,-0.3 L-4.6,-0.3 Z" transform="translate(914.1,380.1) rotate(127.0)"/>
<path d="M-4.6,-20.4 L4.6,-20.4 L4.6,-0.3 L10.6,-0.3 L0,20 L-10.6,-0.3 L-4.6,-0.3 Z" transform="translate(922.6,380.1) rotate(123.0)"/>
<path d="M-4.6,-20.4 L4.6,-20.4 L4.6,-0.3 L10.6,-0.3 L0,20 L-10.6,-0.3 L-4.6,-0.3 Z" transform="translate(931.1,370.6) rotate(102.0)"/>
<path d="M-4.6,-20.4 L4.6,-20.4 L4.6,-0.3 L10.6,-0.3 L0,20 L-10.6,-0.3 L-4.6,-0.3 Z" transform="translate(939.7,370.6) rotate(90.0)"/>
<path d="M-4.6,-20.4 L4.6,-20.4 L4.6,-0.3 L10.6,-0.3 L0,20 L-10.6,-0.3 L-4.6,-0.3 Z" transform="translate(948.2,361.2) rotate(86.0)"/>
<path d="M-4.6,-20.4 L4.6,-20.4 L4.6,-0.3 L10.6,-0.3 L0,20 L-10.6,-0.3 L-4.6,-0.3 Z" transform="translate(956.7,351.7) rotate(63.0)"/>
<path d="M-4.6,-20.4 L4.6,-20.4 L4.6,-0.3 L10.6,-0.3 L0,20 L-10.6,-0.3 L-4.6,-0.3 Z" transform="translate(965.3,351.7) rotate(63.0)"/>
<path d="M-4.6,-20.4 L4.6,-20.4 L4.6,-0.3 L10.6,-0.3 L0,20 L-10.6,-0.3 L-4.6,-0.3 Z" transform="translate(973.8,351.7) rotate(63.0)"/>
<path d="M-4.6,-20.4 L4.6,-20.4 L4.6,-0.3 L10.6,-0.3 L0,20 L-10.6,-0.3 L-4.6,-0.3 Z" transform="translate(982.4,351.7) rotate(63.0)"/>
<path d="M-4.6,-20.4 L4.6,-20.4 L4.6,-0.3 L10.6,-0.3 L0,20 L-10.6,-0.3 L-4.6,-0.3 Z" transform="translate(990.9,361.2) rotate(72.0)"/>
<path d="M-4.6,-20.4 L4.6,-20.4 L4.6,-0.3 L10.6,-0.3 L0,20 L-10.6,-0.3 L-4.6,-0.3 Z" transform="translate(999.4,370.6) rotate(45.0)"/>
<path d="M-4.6,-20.4 L4.6,-20.4 L4.6,-0.3 L10.6,-0.3 L0,20 L-10.6,-0.3 L-4.6,-0.3 Z" transform="translate(1008.0,380.1) rotate(43.0)"/>
<path d="M-4.6,-20.4 L4.6,-20.4 L4.6,-0.3 L10.6,-0.3 L0,20 L-10.6,-0.3 L-4.6,-0.3 Z" transform="translate(1016.5,380.1) rotate(63.0)"/>
</g></g>
<text x="893.3" y="400.5" font-size="11.5" textLength="118" lengthAdjust="spacingAndGlyphs" fill="#bcbcbc">www.seabreeze.com.au</text>
<line x1="62.5" x2="1018.5" y1="408.5" y2="408.5" stroke="#2b5d8c" stroke-width="1.4"/>
<text x="50.6" y="413.4" font-size="16" text-anchor="end" fill="#000">0</text>
<text x="50.6" y="366.1" font-size="16" text-anchor="end" fill="#000">1</text>
<text x="50.6" y="318.7" font-size="16" text-anchor="end" fill="#000">2</text>
<text x="50.6" y="271.4" font-size="16" text-anchor="end" fill="#000">3</text>
<text x="50.6" y="224.1" font-size="16" text-anchor="end" fill="#000">4</text>
<text x="50.6" y="176.7" font-size="16" text-anchor="end" fill="#000">5</text>
<text x="50.6" y="129.4" font-size="16" text-anchor="end" fill="#000">6</text>
<text x="1028.3" y="413.4" font-size="16" fill="#000">0</text>
<text x="1028.3" y="366.1" font-size="16" fill="#000">5</text>
<text x="1028.3" y="318.7" font-size="16" fill="#000">10</text>
<text x="1028.3" y="271.4" font-size="16" fill="#000">15</text>
<text x="1028.3" y="224.1" font-size="16" fill="#000">20</text>
<text x="1028.3" y="176.7" font-size="16" fill="#000">25</text>
<text x="1028.3" y="129.4" font-size="16" fill="#000">30</text>
<line x1="62.5" x2="62.5" y1="408.5" y2="417.5" stroke="#000" stroke-width="1.2"/>
<line x1="96.64" x2="96.64" y1="408.5" y2="412.5" stroke="#000" stroke-width="1.2"/>
<line x1="130.79" x2="130.79" y1="408.5" y2="412.5" stroke="#000" stroke-width="1.2"/>
<line x1="164.93" x2="164.93" y1="408.5" y2="412.5" stroke="#000" stroke-width="1.2"/>
<line x1="199.5" x2="199.5" y1="408.5" y2="417.5" stroke="#000" stroke-width="1.2"/>
<line x1="233.21" x2="233.21" y1="408.5" y2="412.5" stroke="#000" stroke-width="1.2"/>
<line x1="267.36" x2="267.36" y1="408.5" y2="412.5" stroke="#000" stroke-width="1.2"/>
<line x1="301.50" x2="301.50" y1="408.5" y2="412.5" stroke="#000" stroke-width="1.2"/>
<line x1="336.5" x2="336.5" y1="408.5" y2="417.5" stroke="#000" stroke-width="1.2"/>
<line x1="369.79" x2="369.79" y1="408.5" y2="412.5" stroke="#000" stroke-width="1.2"/>
<line x1="403.93" x2="403.93" y1="408.5" y2="412.5" stroke="#000" stroke-width="1.2"/>
<line x1="438.07" x2="438.07" y1="408.5" y2="412.5" stroke="#000" stroke-width="1.2"/>
<line x1="472.5" x2="472.5" y1="408.5" y2="417.5" stroke="#000" stroke-width="1.2"/>
<line x1="506.36" x2="506.36" y1="408.5" y2="412.5" stroke="#000" stroke-width="1.2"/>
<line x1="540.50" x2="540.50" y1="408.5" y2="412.5" stroke="#000" stroke-width="1.2"/>
<line x1="574.64" x2="574.64" y1="408.5" y2="412.5" stroke="#000" stroke-width="1.2"/>
<line x1="609.5" x2="609.5" y1="408.5" y2="417.5" stroke="#000" stroke-width="1.2"/>
<line x1="642.93" x2="642.93" y1="408.5" y2="412.5" stroke="#000" stroke-width="1.2"/>
<line x1="677.07" x2="677.07" y1="408.5" y2="412.5" stroke="#000" stroke-width="1.2"/>
<line x1="711.21" x2="711.21" y1="408.5" y2="412.5" stroke="#000" stroke-width="1.2"/>
<line x1="745.5" x2="745.5" y1="408.5" y2="417.5" stroke="#000" stroke-width="1.2"/>
<line x1="779.50" x2="779.50" y1="408.5" y2="412.5" stroke="#000" stroke-width="1.2"/>
<line x1="813.64" x2="813.64" y1="408.5" y2="412.5" stroke="#000" stroke-width="1.2"/>
<line x1="847.79" x2="847.79" y1="408.5" y2="412.5" stroke="#000" stroke-width="1.2"/>
<line x1="882.5" x2="882.5" y1="408.5" y2="417.5" stroke="#000" stroke-width="1.2"/>
<line x1="916.07" x2="916.07" y1="408.5" y2="412.5" stroke="#000" stroke-width="1.2"/>
<line x1="950.21" x2="950.21" y1="408.5" y2="412.5" stroke="#000" stroke-width="1.2"/>
<line x1="984.36" x2="984.36" y1="408.5" y2="412.5" stroke="#000" stroke-width="1.2"/>
<text x="99.25" y="434.5" font-size="16" textLength="57.75" lengthAdjust="spacingAndGlyphs" fill="#000">Monday</text>
<text x="234.25" y="434.5" font-size="16" textLength="62.0" lengthAdjust="spacingAndGlyphs" fill="#000">Tuesday</text>
<text x="356.25" y="434.5" font-size="16" textLength="86.75" lengthAdjust="spacingAndGlyphs" fill="#000">Wednesday</text>
<text x="504.25" y="434.5" font-size="16" textLength="68.75" lengthAdjust="spacingAndGlyphs" fill="#000">Thursday</text>
<text x="652.5" y="434.5" font-size="16" textLength="45.5" lengthAdjust="spacingAndGlyphs" fill="#000">Friday</text>
<text x="779.5" y="434.5" font-size="16" font-weight="bold" textLength="69.75" lengthAdjust="spacingAndGlyphs" fill="#000">Saturday</text>
<text x="921.25" y="434.5" font-size="16" font-weight="bold" textLength="58.0" lengthAdjust="spacingAndGlyphs" fill="#000">Sunday</text>
<text x="110.75" y="458.7" font-size="17.5" textLength="37.5" lengthAdjust="spacingAndGlyphs" fill="#7c7c7c">12th</text>
<text x="247.5" y="458.7" font-size="17.5" textLength="37.5" lengthAdjust="spacingAndGlyphs" fill="#7c7c7c">13th</text>
<text x="384.5" y="458.7" font-size="17.5" textLength="38.0" lengthAdjust="spacingAndGlyphs" fill="#7c7c7c">14th</text>
<text x="520.5" y="458.7" font-size="17.5" textLength="37.5" lengthAdjust="spacingAndGlyphs" fill="#7c7c7c">15th</text>
<text x="657.5" y="458.7" font-size="17.5" textLength="38.0" lengthAdjust="spacingAndGlyphs" fill="#7c7c7c">16th</text>
<text x="793.75" y="458.7" font-size="17.5" textLength="37.5" lengthAdjust="spacingAndGlyphs" fill="#7c7c7c">17th</text>
<text x="931.25" y="458.7" font-size="17.5" textLength="36.75" lengthAdjust="spacingAndGlyphs" fill="#7c7c7c">18th</text>
<text transform="translate(19.9,376.6) rotate(-90)" font-size="22.67" textLength="220" lengthAdjust="spacingAndGlyphs" fill="#000">Wave Height - Metres</text>
<text transform="translate(1059.1,162.2) rotate(90)" font-size="22.67" textLength="205.3" lengthAdjust="spacingAndGlyphs" fill="#000">Wind Speed - Knots</text>
</svg></body></html>
